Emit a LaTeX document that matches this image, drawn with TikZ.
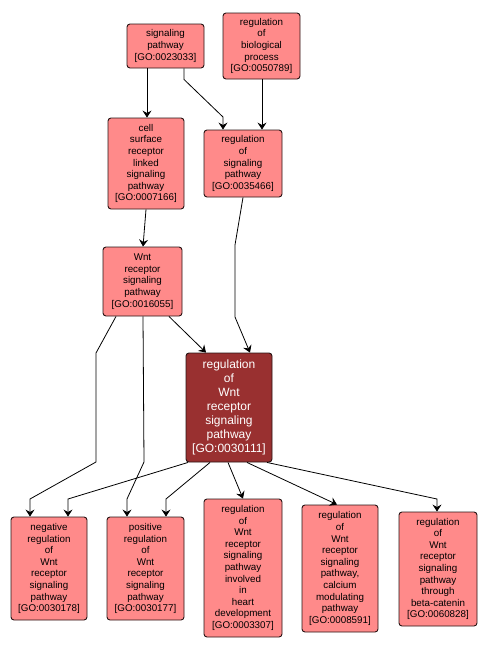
\documentclass[tikz,border=0pt]{standalone}
\usepackage{fontspec}
\setmainfont{Liberation Sans}
\usetikzlibrary{arrows.meta}
\definecolor{lightnode}{RGB}{255,138,138}
\definecolor{darknode}{RGB}{153,48,48}
\definecolor{nodeborder}{RGB}{40,20,20}
\tikzset{
  go/.style={draw=nodeborder, line width=0.9pt, rounded corners=3pt, fill=lightnode, inner sep=0pt, align=center,
    font=\fontsize{9.8}{11.6}\selectfont, text=black},
  godark/.style={go, fill=darknode, text=white, font=\fontsize{12}{14}\selectfont},
  edge/.style={draw=black, line width=0.8pt, -{Stealth[length=7pt,width=9pt,inset=2.5pt]}},
}
\begin{document}
\begin{tikzpicture}[x=1pt,y=-1pt]
\useasboundingbox[fill=white] (0,0) rectangle (486,651);
\node[go, minimum width=77pt, minimum height=44pt] (sig) at (165.5,46) {signaling\\pathway\\{[GO:0023033]}};
\node[go, minimum width=77pt, minimum height=66pt] (bio) at (261.5,46) {regulation\\of\\biological\\process\\{[GO:0050789]}};
\node[go, minimum width=76pt, minimum height=91pt] (cell) at (146,163.5) {cell\\surface\\receptor\\linked\\signaling\\pathway\\{[GO:0007166]}};
\node[go, minimum width=78pt, minimum height=67pt] (regsig) at (243,163.5) {regulation\\of\\signaling\\pathway\\{[GO:0035466]}};
\node[go, minimum width=79pt, minimum height=69pt] (wnt) at (142.5,281.5) {Wnt\\receptor\\signaling\\pathway\\{[GO:0016055]}};
\node[godark, minimum width=86pt, minimum height=109pt] (regwnt) at (229,407.5) {regulation\\of\\Wnt\\receptor\\signaling\\pathway\\{[GO:0030111]}};
\node[go, minimum width=76pt, minimum height=103pt] (neg) at (49,568.5) {negative\\regulation\\of\\Wnt\\receptor\\signaling\\pathway\\{[GO:0030178]}};
\node[go, minimum width=77pt, minimum height=103pt] (pos) at (145.5,568.5) {positive\\regulation\\of\\Wnt\\receptor\\signaling\\pathway\\{[GO:0030177]}};
\node[go, minimum width=78pt, minimum height=138pt] (heart) at (243,568) {regulation\\of\\Wnt\\receptor\\signaling\\pathway\\involved\\in\\heart\\development\\{[GO:0003307]}};
\node[go, minimum width=76pt, minimum height=127pt] (calc) at (340,568.5) {regulation\\of\\Wnt\\receptor\\signaling\\pathway,\\calcium\\modulating\\pathway\\{[GO:0008591]}};
\node[go, minimum width=78pt, minimum height=114pt] (beta) at (438,569) {regulation\\of\\Wnt\\receptor\\signaling\\pathway\\through\\beta-catenin\\{[GO:0060828]}};

\draw[edge] ([xshift=-18.5]sig.south) -- ([xshift=1]cell.north);
\draw[edge] ([xshift=18.5]sig.south) -- ++(0,11) -- (223,117) -- ([xshift=-20]regsig.north);
\draw[edge] ([xshift=0.5]bio.south) -- ([xshift=19]regsig.north);
\draw[edge] (cell.south) -- ([xshift=0.5]wnt.north);
\draw[edge] (regsig.south) -- (235,245) -- (235,317) -- ([xshift=21]regwnt.north);
\draw[edge] ([xshift=26.5]wnt.south) -- ([xshift=-23]regwnt.north);
\draw[edge] ([xshift=-26.5]wnt.south) -- (96,353) -- (96,462) -- (30,499) -- ([xshift=-19]neg.north);
\draw[edge] ([xshift=0.5]wnt.south) -- (144,462) -- (127,499) -- ([xshift=-18.5]pos.north);
\draw[edge] ([xshift=-41]regwnt.south) -- (68,499) -- ([xshift=19]neg.north);
\draw[edge] ([xshift=-19]regwnt.south) -- (166,499) -- ([xshift=20.5]pos.north);
\draw[edge] ([xshift=-1]regwnt.south) -- (heart.north);
\draw[edge] ([xshift=18]regwnt.south) -- ([xshift=-3]calc.north);
\draw[edge] ([xshift=38]regwnt.south) -- (437,499) -- ([xshift=-1]beta.north);
\end{tikzpicture}
\end{document}
